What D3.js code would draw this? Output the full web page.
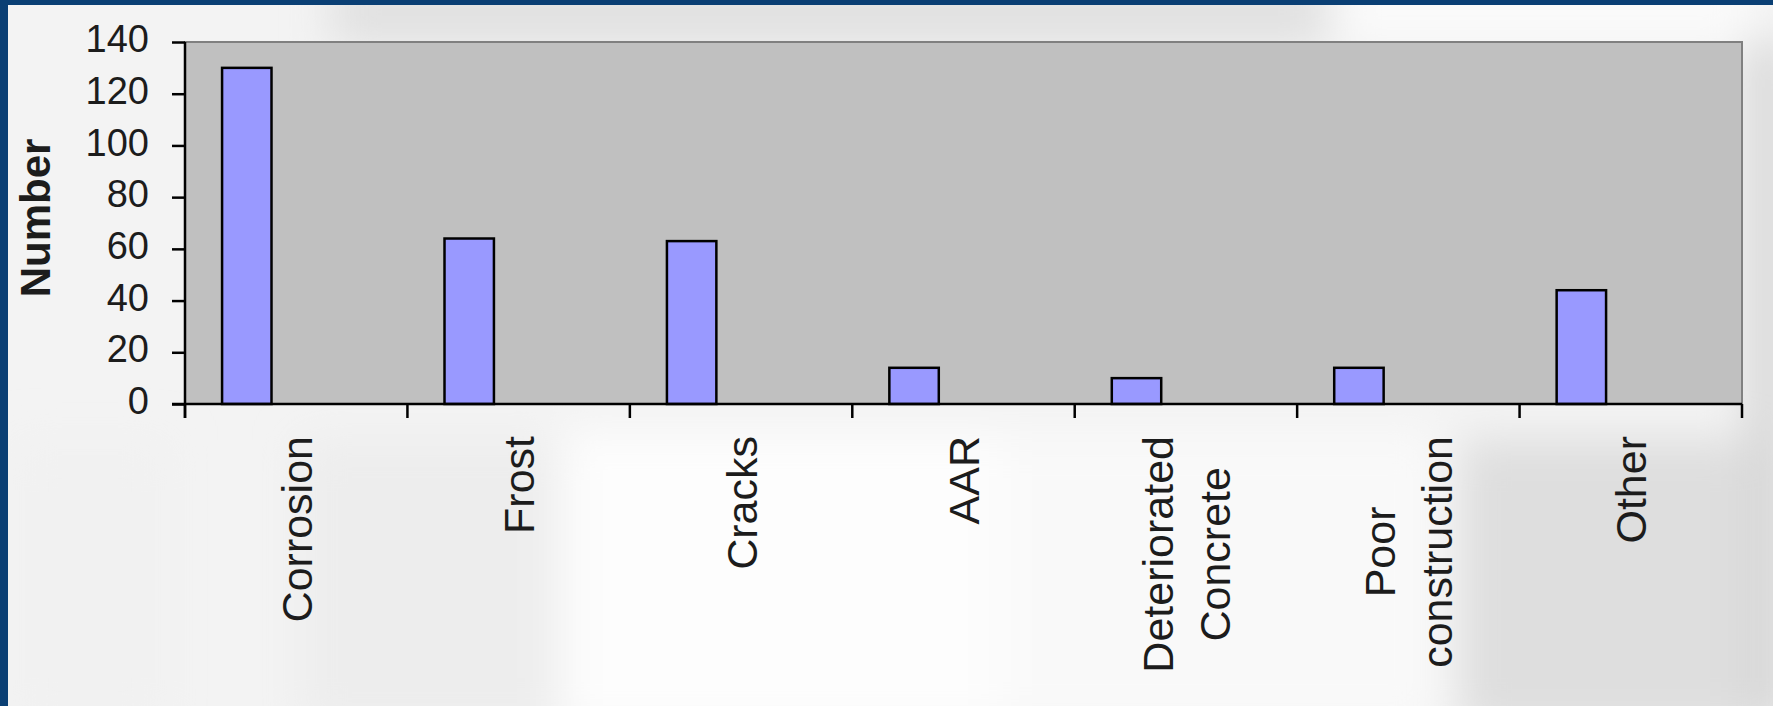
<!DOCTYPE html>
<html>
<head>
<meta charset="utf-8">
<script src="https://cdn.jsdelivr.net/npm/d3@7"></script>
<style>
  html, body { margin: 0; padding: 0; background: #ffffff; }
  svg { display: block; }
  text { font-family: "Liberation Sans", Arial, Helvetica, sans-serif; }
</style>
</head>
<body>
<svg id="chart" width="1773" height="706"></svg>
<script>
// Causes of damage and the number of cases recorded for each
const categories = ["Corrosion", "Frost", "Cracks", "AAR", "Deteriorated\nConcrete", "Poor\nconstruction", "Other"];
const counts = [130, 64, 63, 14, 10, 14, 44];
const yTicks = [0, 20, 40, 60, 80, 100, 120, 140];
const yTitle = "Number";

const W = 1773, H = 706;
const plot = { left: 185, right: 1742, top: 42, bottom: 404 };

const svg = d3.select("#chart");
const defs = svg.append("defs");
defs.append("filter").attr("id", "soft")
  .attr("x", "-20%").attr("y", "-20%").attr("width", "140%").attr("height", "140%")
  .append("feGaussianBlur").attr("stdDeviation", 22);

// Slide backdrop: pale washed-out photo with a navy frame on the top and left
const bg = svg.append("g");
bg.append("rect").attr("width", W).attr("height", H).attr("fill", "#f3f3f3");
const haze = bg.append("g").attr("filter", "url(#soft)");
[
  { x: 330, y: -20, w: 1000, h: 64, c: "#e0e0e0" },
  { x: 1335, y: -20, w: 420, h: 60, c: "#fbfbfb" },
  { x: 560, y: 430, w: 440, h: 300, c: "#fdfdfd" },
  { x: 1000, y: 430, w: 440, h: 300, c: "#f9f9f9" },
  { x: 1460, y: 440, w: 330, h: 290, c: "#dedede" },
  { x: 1748, y: 40, w: 40, h: 680, c: "#d6d6d6" },
  { x: 300, y: 440, w: 260, h: 290, c: "#ededed" },
  { x: 10, y: 440, w: 160, h: 290, c: "#f1f1f1" }
].forEach(p => haze.append("rect")
  .attr("x", p.x).attr("y", p.y).attr("width", p.w).attr("height", p.h).attr("fill", p.c));

bg.append("rect").attr("x", 0).attr("y", 0).attr("width", W).attr("height", 5).attr("fill", "#0a3f74");
bg.append("rect").attr("x", 0).attr("y", 0).attr("width", 8).attr("height", H).attr("fill", "#0a3f74");

// Scales
const x = d3.scaleBand().domain(categories).range([plot.left, plot.right]).padding(0);
const y = d3.scaleLinear().domain([0, 140]).range([plot.bottom, plot.top]);
const step = x.bandwidth();
const barW = step / 4.5;          // column width with a 150% gap
const barOffset = barW * 0.75;

// Plot area
svg.append("rect")
  .attr("x", plot.left).attr("y", plot.top)
  .attr("width", plot.right - plot.left).attr("height", plot.bottom - plot.top)
  .attr("fill", "#c0c0c0").attr("stroke", "#808080").attr("stroke-width", 2);

// Bars
svg.append("g").selectAll("rect")
  .data(categories.map((c, i) => ({ c, v: counts[i] })))
  .join("rect")
  .attr("x", d => x(d.c) + barOffset)
  .attr("y", d => y(d.v))
  .attr("width", barW)
  .attr("height", d => y(0) - y(d.v))
  .attr("fill", "#9999ff")
  .attr("stroke", "#000000")
  .attr("stroke-width", 2.5);

// Y axis
const yAxis = svg.append("g").attr("transform", `translate(${plot.left},0)`)
  .call(d3.axisLeft(y).tickValues(yTicks).tickSize(13).tickPadding(0).tickFormat(d3.format("d")));
yAxis.select(".domain").remove();
yAxis.append("line").attr("x1", 0).attr("x2", 0).attr("y1", plot.top).attr("y2", plot.bottom + 14)
  .attr("stroke", "#000").attr("stroke-width", 2.5);
yAxis.selectAll(".tick line").attr("stroke", "#000").attr("stroke-width", 2.5);
yAxis.selectAll(".tick text")
  .attr("x", -36).attr("dy", null).attr("y", 9.6)
  .attr("font-size", 38).attr("fill", "#1c1c1c")
  .attr("font-family", "Liberation Sans, Arial, sans-serif")
  .attr("text-anchor", "end");

// X axis: ticks at category boundaries
const xg = svg.append("g");
xg.append("line").attr("x1", plot.left - 13).attr("x2", plot.right)
  .attr("y1", plot.bottom).attr("y2", plot.bottom)
  .attr("stroke", "#000").attr("stroke-width", 2.5);
const boundaries = categories.map(c => x(c)).concat([x(categories[categories.length - 1]) + step]);
xg.selectAll("line.tk").data(boundaries).join("line").attr("class", "tk")
  .attr("x1", d => d).attr("x2", d => d)
  .attr("y1", plot.bottom).attr("y2", plot.bottom + 14)
  .attr("stroke", "#000").attr("stroke-width", 2.5);

// Category labels, rotated and hung from just below the axis
const labelTop = 436, fs = 43, lineGap = 57;
categories.forEach(c => {
  const lines = c.split("\n");
  const cx = x(c) + step / 2;
  const g = xg.append("g");
  const texts = lines.map(l => g.append("text").text(l)
    .attr("font-size", fs).attr("fill", "#1c1c1c").attr("text-anchor", "middle"));
  const maxLen = d3.max(texts, t => t.node().getComputedTextLength());
  const cy = labelTop + maxLen / 2;
  const n = lines.length;
  texts.forEach((t, i) => {
    const base = cx + 0.36 * fs + (i - (n - 1) / 2) * lineGap;
    t.attr("transform", `translate(${base},${cy}) rotate(-90)`);
  });
});

// Y axis title
svg.append("text").text(yTitle)
  .attr("transform", `translate(50,218) rotate(-90)`)
  .attr("text-anchor", "middle")
  .attr("font-size", 42).attr("font-weight", "bold").attr("fill", "#1c1c1c");
</script>
</body>
</html>
